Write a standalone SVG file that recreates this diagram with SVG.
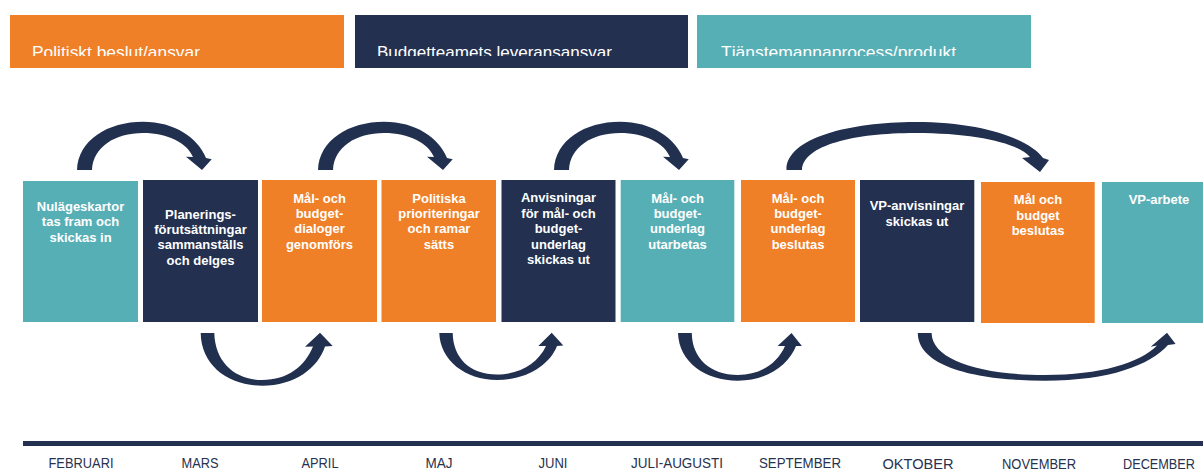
<svg xmlns="http://www.w3.org/2000/svg" width="1203" height="470" viewBox="0 0 1203 470">
<style>
.or{fill:#F08027}
.nv{fill:#23304F}
.tl{fill:#57AFB6}
.lg{font-family:"Liberation Sans",Arial,sans-serif;font-size:17px;fill:#ffffff}
.bt{font-family:"Liberation Sans",Arial,sans-serif;font-size:13px;font-weight:bold;fill:#ffffff;text-anchor:middle}
.mo{font-family:"Liberation Sans Narrow","Liberation Sans",Arial,sans-serif;font-size:14px;fill:#27324F;text-anchor:middle}
.ar{fill:#22304F}
</style>
<defs>
<clipPath id="lgclip"><rect x="0" y="0" width="1203" height="56"/></clipPath>
</defs>
<rect width="1203" height="470" fill="#ffffff"/>

<g id="legend">
<rect class="or" x="10" y="15" width="334" height="53"/>
<rect class="nv" x="355" y="15" width="333" height="53"/>
<rect class="tl" x="697" y="15" width="334" height="53"/>
<g clip-path="url(#lgclip)">
<text class="lg" x="32" y="58" textLength="168" lengthAdjust="spacingAndGlyphs">Politiskt beslut/ansvar</text>
<text class="lg" x="377" y="58" textLength="235" lengthAdjust="spacingAndGlyphs">Budgetteamets leveransansvar</text>
<text class="lg" x="721" y="58" textLength="235" lengthAdjust="spacingAndGlyphs">Tjänstemannaprocess/produkt</text>
</g>
</g>

<g id="n1"><rect class="tl" x="23" y="181" width="115" height="141"/>
<text class="bt" x="80.5" y="211">Nulägeskartor</text><text class="bt" x="80.5" y="226.3">tas fram och</text><text class="bt" x="80.5" y="241.6">skickas in</text></g>
<g id="n2"><rect class="nv" x="143" y="180" width="115" height="142"/>
<text class="bt" x="200.5" y="218.6">Planerings-</text><text class="bt" x="200.5" y="233.9">förutsättningar</text><text class="bt" x="200.5" y="249.2">sammanställs</text><text class="bt" x="200.5" y="264.5">och delges</text></g>
<g id="n3"><rect class="or" x="262" y="180" width="115" height="142"/>
<text class="bt" x="319.5" y="202.6">Mål- och</text><text class="bt" x="319.5" y="217.9">budget-</text><text class="bt" x="319.5" y="233.2">dialoger</text><text class="bt" x="319.5" y="248.5">genomförs</text></g>
<g id="n4"><rect class="or" x="381.5" y="180" width="114.5" height="142"/>
<text class="bt" x="439" y="202.6">Politiska</text><text class="bt" x="439" y="217.9">prioriteringar</text><text class="bt" x="439" y="233.2">och ramar</text><text class="bt" x="439" y="248.5">sätts</text></g>
<g id="n5"><rect class="nv" x="501.5" y="180" width="114" height="142"/>
<text class="bt" x="558.5" y="202.3">Anvisningar</text><text class="bt" x="558.5" y="217.8">för mål- och</text><text class="bt" x="558.5" y="233.3">budget-</text><text class="bt" x="558.5" y="248.8">underlag</text><text class="bt" x="558.5" y="264.3">skickas ut</text></g>
<g id="n6"><rect class="tl" x="620.7" y="180" width="113.6" height="142"/>
<text class="bt" x="677.5" y="202.6">Mål- och</text><text class="bt" x="677.5" y="217.9">budget-</text><text class="bt" x="677.5" y="233.2">underlag</text><text class="bt" x="677.5" y="248.5">utarbetas</text></g>
<g id="n7"><rect class="or" x="741" y="180" width="114" height="142"/>
<text class="bt" x="798" y="202.6">Mål- och</text><text class="bt" x="798" y="217.9">budget-</text><text class="bt" x="798" y="233.2">underlag</text><text class="bt" x="798" y="248.5">beslutas</text></g>
<g id="n8"><rect class="nv" x="860" y="180" width="114.3" height="142"/>
<text class="bt" x="917" y="210">VP-anvisningar</text><text class="bt" x="917" y="225.5">skickas ut</text></g>
<g id="n9"><rect class="or" x="981" y="182" width="113.7" height="141"/>
<text class="bt" x="1038" y="204.3">Mål och</text><text class="bt" x="1038" y="219.6">budget</text><text class="bt" x="1038" y="234.9">beslutas</text></g>
<g id="n10"><rect class="tl" x="1102" y="182" width="114" height="141"/>
<text class="bt" x="1159" y="204.3">VP-arbete</text></g>

<g id="connectors">
<path class="ar" d="M77,170 C78,140 108,121.7 143,121.7 C175,121.7 198,138 206,158 L211.7,159.3 L202,170 L186,156.7 L193,157 C187,143 168,133 143,133 C115,133 93,147 92,170 Z"/>
<path class="ar" transform="translate(241,0)" d="M77,170 C78,140 108,121.7 143,121.7 C175,121.7 198,138 206,158 L211.7,159.3 L202,170 L186,156.7 L193,157 C187,143 168,133 143,133 C115,133 93,147 92,170 Z"/>
<path class="ar" transform="translate(477,0)" d="M77,170 C78,140 108,121.7 143,121.7 C175,121.7 198,138 206,158 L211.7,159.3 L202,170 L186,156.7 L193,157 C187,143 168,133 143,133 C115,133 93,147 92,170 Z"/>
<path class="ar" d="M786.5,170 C786,138 850,122 915,122 C985,122 1030,140 1043,158 L1049,160 L1040,172 L1022,158 L1030,157 C1018,143 975,133 915,133 C855,133 803,145 802,170 Z"/>
<path class="ar" d="M200.7,333 C201,365 228,385.7 262,385.7 C295,385.7 318,368 325,346.5 L332.7,346 L320,332.7 L305,346.7 L313,346.5 C305,366 288,380 262,380 C235,380 215,362 214.3,333 Z"/>
<path class="ar" d="M439.3,333 C440,360 465,380 497,380 C528,380 550,364 557,346 L563.3,345.5 L551.7,332.7 L538.3,346 L546,346 C538,363 520,374.5 497,374.5 C470,374.5 453,358 452.7,333 Z"/>
<path class="ar" d="M678,333 C679,362 705,380.7 738,380.7 C768,380.7 789,364 796,346 L801.9,346 L791.5,333 L777.6,346 L785,346 C777,364 760,375 738,375 C710,375 692,358 691.8,333 Z"/>
<path class="ar" d="M917.8,333 C918,368 980,380.7 1045,380.7 C1110,380.7 1150,365 1168,345 L1175.6,344 L1167,332.7 L1150.7,346.7 L1157,345.5 C1140,363 1100,375 1045,375 C980,375 932,360 931.6,333 Z"/>
</g>

<g id="timeline">
<rect class="nv" x="23" y="441" width="1180" height="5"/>
<text class="mo" x="81" y="468" textLength="65" lengthAdjust="spacingAndGlyphs">FEBRUARI</text>
<text class="mo" x="200" y="468" textLength="37" lengthAdjust="spacingAndGlyphs">MARS</text>
<text class="mo" x="320" y="468" textLength="37" lengthAdjust="spacingAndGlyphs">APRIL</text>
<text class="mo" x="439" y="468" textLength="27" lengthAdjust="spacingAndGlyphs">MAJ</text>
<text class="mo" x="553" y="468" textLength="29" lengthAdjust="spacingAndGlyphs">JUNI</text>
<text class="mo" x="677" y="468" textLength="92" lengthAdjust="spacingAndGlyphs">JULI-AUGUSTI</text>
<text class="mo" x="800" y="468" textLength="82" lengthAdjust="spacingAndGlyphs">SEPTEMBER</text>
<text class="mo" x="918" y="468.5" textLength="71" lengthAdjust="spacingAndGlyphs">OKTOBER</text>
<text class="mo" x="1039" y="469" textLength="74" lengthAdjust="spacingAndGlyphs">NOVEMBER</text>
<text class="mo" x="1159" y="469" textLength="72" lengthAdjust="spacingAndGlyphs">DECEMBER</text>
</g>
</svg>
